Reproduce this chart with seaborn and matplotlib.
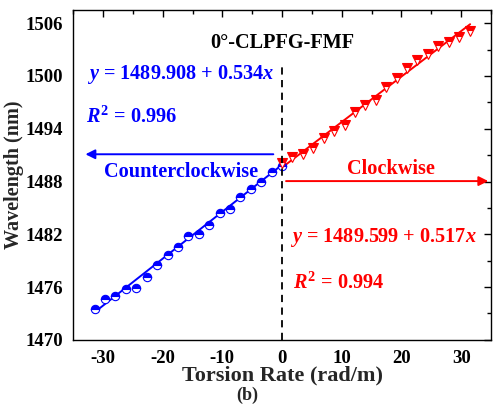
import numpy as np
import pandas as pd
import matplotlib
matplotlib.use("Agg")
import matplotlib.pyplot as plt
import seaborn as sns

# ---- data ----
ccw_x = [-31.4, -29.66, -27.91, -26.17, -24.42, -22.68, -20.93, -19.19, -17.44, -15.7,
         -13.96, -12.21, -10.47, -8.72, -6.98, -5.23, -3.49, -1.74, 0.0]
ccw_y = [1473.5, 1474.6, 1475.0, 1475.8, 1475.9, 1477.1, 1478.5, 1479.6, 1480.6, 1481.8,
         1482.0, 1483.1, 1484.4, 1484.9, 1486.2, 1487.2, 1487.9, 1489.1, 1489.8]
cw_x = [0.0, 1.74, 3.49, 5.23, 6.98, 8.72, 10.47, 12.21, 13.96, 15.7,
        17.44, 19.19, 20.93, 22.68, 24.42, 26.17, 27.91, 29.66, 31.4]
cw_y = [1490.1, 1490.8, 1491.1, 1491.8, 1492.9, 1493.8, 1494.4, 1495.9, 1496.7, 1497.3,
        1498.8, 1499.8, 1500.9, 1501.8, 1502.5, 1503.4, 1503.9, 1504.4, 1505.1]
ccw_fit = (1489.908, 0.534)
cw_fit = (1489.599, 0.517)
x_ticks = [-30, -20, -10, 0, 10, 20, 30]
y_ticks = [1470, 1476, 1482, 1488, 1494, 1500, 1506]

sns.set_theme(style="white")
plt.rcParams["font.family"] = ["Liberation Serif", "DejaVu Serif"]
plt.rcParams["font.weight"] = "bold"
plt.rcParams["mathtext.fontset"] = "custom"
plt.rcParams["mathtext.rm"] = "Liberation Serif:bold"
plt.rcParams["mathtext.it"] = "Liberation Serif:italic:bold"
plt.rcParams["mathtext.bf"] = "Liberation Serif:bold"

BLUE = "#0000ff"
RED = "#ff0000"

fig = plt.figure(figsize=(4.94, 4.17), dpi=100)
ax = fig.add_axes([0.148, 0.185, 0.846, 0.791])

# fit lines
fx_ccw = np.array([min(ccw_x) - 0.1, 0.0])
fx_cw = np.array([0.0, max(cw_x) + 0.1])
sns.lineplot(x=fx_ccw, y=ccw_fit[0] + ccw_fit[1] * fx_ccw, ax=ax, color=BLUE, lw=1.4)
sns.lineplot(x=fx_cw, y=cw_fit[0] + cw_fit[1] * fx_cw, ax=ax, color=RED, lw=1.4)

# data points (half-filled markers)
ax.plot(ccw_x, ccw_y, ls="none", marker="o", ms=6, fillstyle="top",
        markerfacecolor=BLUE, markerfacecoloralt="white", markeredgecolor=BLUE, mew=0.8)
ax.plot(cw_x, cw_y, ls="none", marker="v", ms=7, fillstyle="top",
        markerfacecolor=RED, markerfacecoloralt="white", markeredgecolor=RED, mew=0.8)

# dashed vertical line at 0
ax.plot([0, 0], [1470, 1501.6], ls=(0, (4, 3)), color="black", lw=1.3)

# arrows
ax.annotate("", xy=(-33.4, 1491.1), xytext=(-1.0, 1491.1),
            arrowprops=dict(arrowstyle="-|>", color=BLUE, lw=1.4, mutation_scale=14))
ax.annotate("", xy=(35.0, 1488.05), xytext=(0.2, 1488.05),
            arrowprops=dict(arrowstyle="-|>", color=RED, lw=1.4, mutation_scale=14),
            annotation_clip=False)

tfs = 14.6
ax.text(-17.0, 1489.1, "Counterclockwise", color=BLUE, fontsize=tfs, fontweight="bold",
        ha="center", va="center")
ax.text(18.2, 1489.4, "Clockwise", color=RED, fontsize=tfs, fontweight="bold",
        ha="center", va="center")
ax.text(0.0, 1503.7, "0°-CLPFG-FMF", color="black", fontsize=tfs, fontweight="bold",
        ha="center", va="center")

ax.text(-32.6, 1500.2, r"$y$ = 1489.908 + 0.534$x$", color=BLUE, fontsize=tfs,
        fontweight="bold", ha="left", va="center")
ax.text(-32.9, 1495.3, r"$R^2$ = 0.996", color=BLUE, fontsize=tfs,
        fontweight="bold", ha="left", va="center")
ax.text(1.3, 1481.6, r"$y$ = 1489.599 + 0.517$x$", color=RED, fontsize=tfs,
        fontweight="bold", ha="left", va="center")
ax.text(1.8, 1476.4, r"$R^2$ = 0.994", color=RED, fontsize=tfs,
        fontweight="bold", ha="left", va="center")

ax.set_xlim(-35, 35)
ax.set_ylim(1470, 1507.5)
ax.set_xticks(x_ticks)
ax.set_xticklabels([str(v) for v in x_ticks])
ax.set_yticks(y_ticks)
ax.set_yticklabels([str(v) for v in y_ticks])
ax.set_xticks(np.arange(-35, 36, 5), minor=True)
ax.set_yticks(np.arange(1470, 1508, 3), minor=True)
ax.tick_params(which="both", direction="in", top=True, right=True, labeltop=False,
               labelright=False, colors="black", width=1)
ax.tick_params(which="major", length=5, labelsize=13.5, pad=7.5)
ax.tick_params(which="minor", length=3)
for lab in ax.get_xticklabels() + ax.get_yticklabels():
    lab.set_fontweight("bold")
for sp in ax.spines.values():
    sp.set_color("black")
    sp.set_linewidth(1.0)

ax.set_xlabel("Torsion Rate (rad/m)", fontsize=16, fontweight="bold", labelpad=-1)
ax.set_ylabel("Wavelength (nm)", fontsize=14.5, fontweight="bold", labelpad=1)
fig.text(0.5, 0.052, "(b)", ha="center", va="center", fontsize=13, fontweight="bold")

fig.savefig("out.png", dpi=100)
